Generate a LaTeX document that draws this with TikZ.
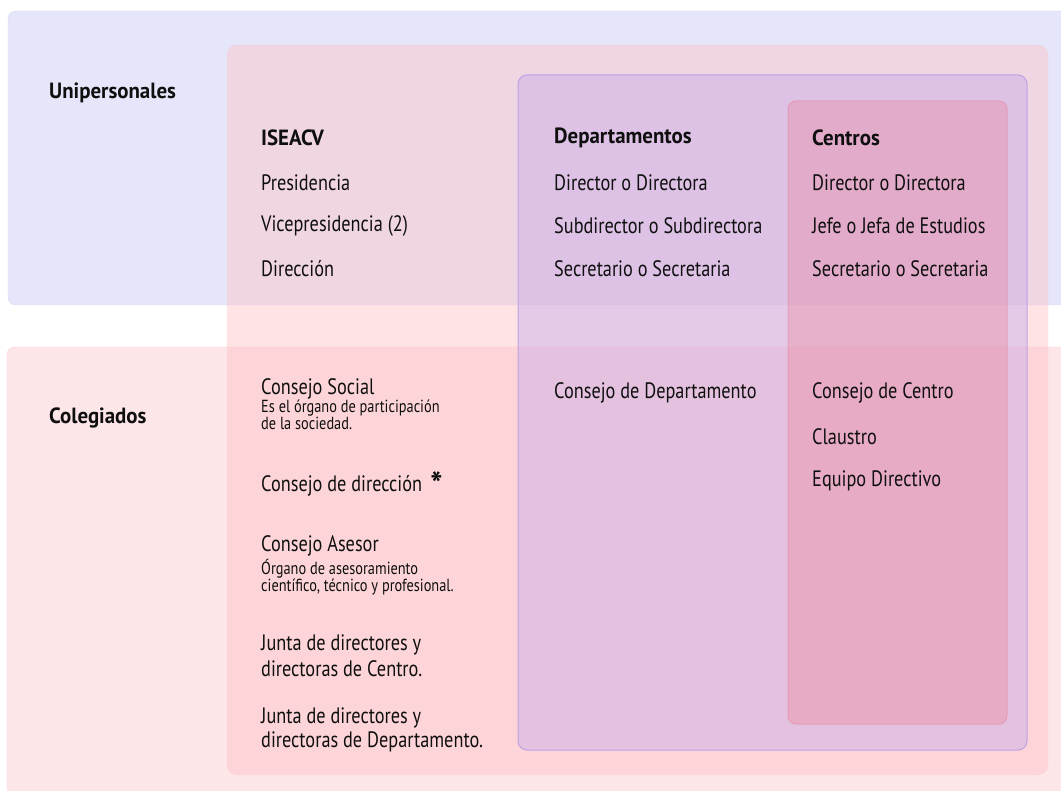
\documentclass[tikz,border=0pt]{standalone}
\usepackage{fontspec}
\setmainfont{PT Sans}[FakeStretch=0.82]
\newfontfamily\hfont{PT Sans}[FakeStretch=0.95]
\definecolor{bandblue}{RGB}{230,230,250}
\definecolor{bandblueline}{RGB}{218,218,245}
\definecolor{bandred}{RGB}{253,230,232}
\definecolor{colpink}{RGB}{255,190,195}
\definecolor{deptpurple}{RGB}{195,168,235}
\definecolor{deptline}{RGB}{180,150,228}
\definecolor{centrored}{RGB}{240,120,140}
\definecolor{centroline}{RGB}{230,140,165}
\definecolor{ink}{RGB}{15,15,15}
\tikzset{
  lbl/.style={anchor=west, inner sep=0pt, text=ink, font=\fontsize{22.3}{24}\selectfont},
  head/.style={lbl, font=\fontsize{22}{24}\hfont\bfseries},
  small/.style={lbl, font=\fontsize{17.5}{18}\selectfont},
}
\begin{document}
\begin{tikzpicture}[x=1pt,y=-1pt]
\clip (0,0) rectangle (1061,791);
\fill[white] (0,0) rectangle (1061,791);
% bands
\filldraw[fill=bandblue, draw=bandblueline, rounded corners=8] (8,11) rectangle (1080,305);
\filldraw[fill=bandred, draw=bandred!90!red, rounded corners=8] (7,347) rectangle (1080,810);
% columns
\filldraw[fill=colpink, fill opacity=0.42, draw=colpink, draw opacity=0.3, rounded corners=10] (227,45) rectangle (1048,775);
\filldraw[fill=deptpurple, fill opacity=0.42, draw=deptline, draw opacity=0.8, line width=1pt, rounded corners=9] (518,75) rectangle (1027,750);
\filldraw[fill=centrored, fill opacity=0.3, draw=centroline, draw opacity=0.6, line width=1pt, rounded corners=8] (788,101) rectangle (1007,724);
% row labels
\node[head] (uni) at (49,93) {Unipersonales};
\node[head] (cole) at (49,418) {Colegiados};
% ISEACV
\node[head] (isea) at (261,138) {ISEACV};
\node[lbl] (pres) at (261,183) {Presidencia};
\node[lbl] (vice) at (261,226) {Vicepresidencia (2)};
\node[lbl] (dir) at (261,269) {Dirección};
% Departamentos
\node[head] (dep) at (554,138) {Departamentos};
\node[lbl] (depdir) at (554,183) {Director o Directora};
\node[lbl] (depsub) at (554,226) {Subdirector o Subdirectora};
\node[lbl] (depsec) at (554,269) {Secretario o Secretaria};
% Centros
\node[head] (cen) at (812,138) {Centros};
\node[lbl] (cendir) at (812,183) {Director o Directora};
\node[lbl] (cenjef) at (812,226) {Jefe o Jefa de Estudios};
\node[lbl] (censec) at (812,269) {Secretario o Secretaria};
% Colegiados ISEACV
\node[lbl] (cs) at (261,389) {Consejo Social};
\node[small] (csd1) at (261,408) {Es el órgano de participación};
\node[small] (csd2) at (261,423) {de la sociedad.};
\node[lbl] (cd) at (261,486) {Consejo de dirección};
\node[inner sep=0pt, text=ink, font=\fontsize{34}{34}\hfont\bfseries] (ast) at ([xshift=14pt, yshift=2pt]cd.east) {*};
\node[lbl] (ca) at (261,546) {Consejo Asesor};
\node[small] (cad1) at (261,569) {Órgano de asesoramiento};
\node[small] (cad2) at (261,587) {científico, técnico y profesional.};
\node[lbl] (jc1) at (261,645) {Junta de directores y};
\node[lbl] (jc2) at (261,669) {directoras de Centro.};
\node[lbl] (jd1) at (261,718) {Junta de directores y};
\node[lbl] (jd2) at (261,742) {directoras de Departamento.};
% Colegiados Departamentos
\node[lbl] (cdep) at (554,393) {Consejo de Departamento};
% Colegiados Centros
\node[lbl] (ccen) at (812,393) {Consejo de Centro};
\node[lbl] (cla) at (812,437) {Claustro};
\node[lbl] (eq) at (812,481) {Equipo Directivo};
\end{tikzpicture}
\end{document}
